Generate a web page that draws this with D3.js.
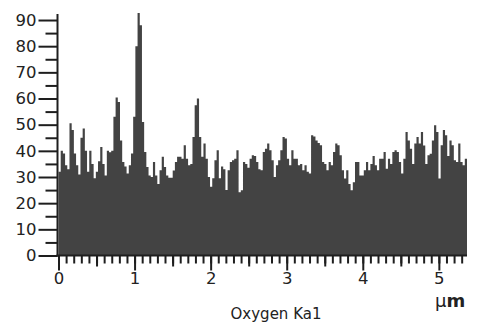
<!DOCTYPE html>
<html>
<head>
<meta charset="utf-8">
<script src="https://cdn.jsdelivr.net/npm/d3@7"></script>
<style>
  html, body { margin: 0; padding: 0; background: #fff; }
  svg { display: block; }
  text { font-family: "DejaVu Sans", Verdana, sans-serif; fill: #222; }
</style>
</head>
<body>
<div id="chart"></div>
<script>
// Oxygen Ka1 line scan: counts per step along the scan line
const scanLengthUm = 5.37;
const oxygenCounts = [
  32, 40, 39, 34.5, 33, 50.5, 48, 39, 34.5, 31,
  45, 48.5, 40, 32, 40, 35, 29.5, 32, 36,
  41.5, 35, 30.6, 40, 39.5, 40, 53, 60.4, 58.7,
  44, 35.7, 34, 31.3, 34.5, 39, 53, 80, 92.7, 88,
  51, 39.6, 33.8, 30.6, 30, 35.7, 30.6, 27.3, 32.6, 37.7,
  33.8, 30.6, 29.7, 29.7, 32.5, 35.7, 37.7, 37.7, 37, 42.1,
  37, 34.5, 35, 45.3, 57.4, 60, 45.3, 37.7, 42.8, 37,
  30, 26.3, 29.5, 36.4, 40.2, 29.5, 34, 33, 25, 32.6,
  35.7, 36.4, 37, 40.2, 24.2, 24.9, 35.7, 35, 33.5, 37,
  38.3, 38, 35.7, 33, 32.6, 39.6, 40.8, 42.8, 40.2, 36.4,
  30, 34.5, 36.4, 40.2, 45.3, 44.7, 37, 34.5, 40.2, 37,
  37, 34.5, 35, 32.6, 34.5, 32, 31.3, 46, 45.5, 44,
  43, 42.1, 35.7, 35, 32.6, 35.7, 34.5, 39.6, 42.8, 42.1,
  38.3, 32.6, 29.4, 32.6, 27.3, 24.9, 28, 35.7, 35.7, 30.6,
  30.6, 32.6, 35.7, 32.6, 35, 38, 34.5, 32.6, 37, 37,
  39.6, 33.2, 37, 35, 39.6, 40.2, 39.6, 35.7, 31.3, 37,
  47.2, 44, 40.8, 35, 42.8, 45.3, 42.8, 47.2, 42, 35,
  38.3, 38.9, 44, 49.8, 47.2, 29.4, 42.1, 48, 46, 38,
  44, 42.1, 36.4, 35.7, 42.8, 35.7, 34.5, 37
];

const xMajorTicks = [0, 1, 2, 3, 4, 5];
const yMajorTicks = [0, 10, 20, 30, 40, 50, 60, 70, 80, 90];
const xUnitLabel = "µm";
const elementLabel = "Oxygen Ka1";

const width = 477, height = 324;
const svg = d3.select("#chart").append("svg")
  .attr("width", width).attr("height", height);

const x = d3.scaleLinear().domain([0, scanLengthUm]).range([58.5, 467]);
const y = d3.scaleLinear().domain([0, 92.3]).range([255.5, 14]);

// sample positions: equal steps along the scan
const step = scanLengthUm / oxygenCounts.length;
const points = oxygenCounts.map((v, i) => ({ pos: i * step, v }));
points.push({ pos: scanLengthUm, v: oxygenCounts[oxygenCounts.length - 1] });

const area = d3.area()
  .curve(d3.curveStepAfter)
  .x(d => x(d.pos))
  .y0(y(0))
  .y1(d => y(d.v));

svg.append("path")
  .datum(points)
  .attr("d", area)
  .attr("fill", "#434343");

// y axis: minor ticks every 5, major every 10
svg.append("g").attr("transform", "translate(57.5,0)")
  .call(d3.axisLeft(y).tickValues(d3.range(5, 90, 10)).tickSize(12).tickFormat(""));
svg.append("g").attr("transform", "translate(57.5,0)")
  .call(d3.axisLeft(y).tickValues(yMajorTicks).tickSize(19).tickPadding(2).tickFormat(d3.format("d")));

// x axis: minor every 0.1, half marks, major every 1
svg.append("g").attr("transform", "translate(0,255.5)")
  .call(d3.axisBottom(x).tickValues(d3.range(0.1, 5.35, 0.1)).tickSize(8).tickFormat(""));
svg.append("g").attr("transform", "translate(0,255.5)")
  .call(d3.axisBottom(x).tickValues([0.5, 1.5, 2.5, 3.5, 4.5]).tickSize(11).tickFormat(""));
svg.append("g").attr("transform", "translate(0,255.5)")
  .call(d3.axisBottom(x).tickValues(xMajorTicks).tickSize(15).tickPadding(2).tickFormat(d3.format("d")));

svg.selectAll(".domain").remove();
svg.selectAll(".tick line").attr("stroke", "#1e1e1e").attr("stroke-width", 2);
svg.selectAll(".tick text").attr("font-size", 16.5).attr("fill", "#222")
  .style("font-family", "'DejaVu Sans', Verdana, sans-serif");

// axis lines
svg.append("line").attr("x1", 57.5).attr("x2", 57.5).attr("y1", 14).attr("y2", 256.5)
  .attr("stroke", "#1e1e1e").attr("stroke-width", 2);
svg.append("line").attr("x1", 56.5).attr("x2", 467).attr("y1", 255.5).attr("y2", 255.5)
  .attr("stroke", "#1e1e1e").attr("stroke-width", 2);

// unit and element labels
const unit = svg.append("text").attr("x", 435).attr("y", 306.5).attr("font-size", 18);
unit.append("tspan").text(xUnitLabel.slice(0, 1));
unit.append("tspan").attr("font-weight", "bold").text(xUnitLabel.slice(1));

svg.append("text").attr("x", 276).attr("y", 319).attr("text-anchor", "middle")
  .attr("font-size", 15).attr("fill", "#444").text(elementLabel);
</script>
</body>
</html>
